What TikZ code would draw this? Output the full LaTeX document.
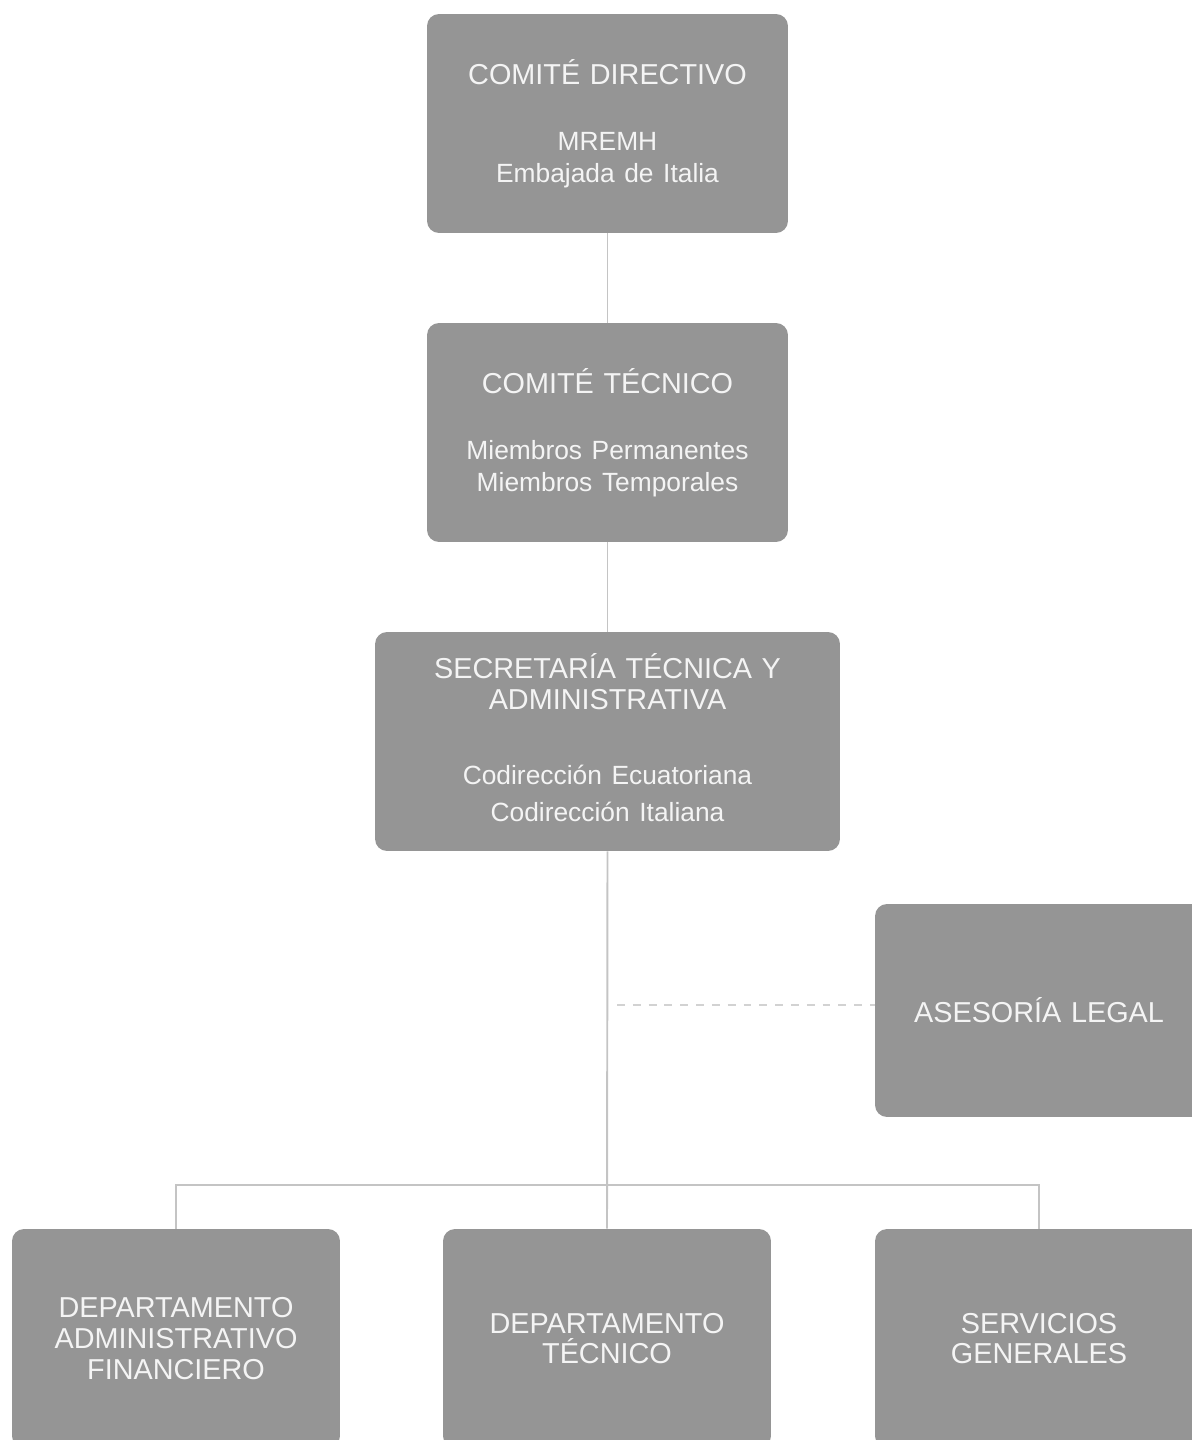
\documentclass[tikz,border=0pt]{standalone}
\usepackage{fontspec}
\setmainfont{Liberation Sans}

\definecolor{boxgray}{HTML}{959595}
\definecolor{linegray}{HTML}{C4C4C4}
\definecolor{dashgray}{HTML}{D2D2D2}
\definecolor{labelwhite}{HTML}{F4F4F4}

\tikzset{
  unit/.style={rectangle, rounded corners=0.24cm, fill=boxgray, text=labelwhite,
    text width=#1, inner xsep=0pt, align=center, minimum height=4.38cm,
    font=\fontsize{16.4}{17.5}\selectfont},
  link/.style={draw=linegray, line width=1.1pt},
  advice/.style={draw=dashgray, line width=1.1pt, dash pattern=on 4.5pt off 4.5pt}
}
\newcommand{\subtxt}[3][20pt]{\par\vspace{#1}{\fontsize{15}{#2}\selectfont #3\par}}

\begin{document}
\begin{tikzpicture}[x=0.02cm,y=-0.02cm]
            \useasboundingbox (0,0) rectangle (1192,1440);
            \clip (0,0) rectangle (1192,1440);
            \node [unit=7.22cm] (dir) at (607.5,123.5) {COMITÉ DIRECTIVO\subtxt{18pt}{MREMH\\Embajada de Italia}};
            \node [unit=7.22cm] (tec) at (607.5,432.5) {COMITÉ TÉCNICO\subtxt{18pt}{Miembros Permanentes\\Miembros Temporales}};
            \node [unit=9.3cm] (sec) at (607.5,741.5) {SECRETARÍA TÉCNICA Y\\ADMINISTRATIVA\subtxt[21pt]{21.5pt}{Codirección Ecuatoriana\\Codirección Italiana}\vspace{4pt}};
            \node [unit=6.56cm, minimum height=4.26cm] (leg) at (1039,1010.5) {ASESORÍA LEGAL};
            \node [unit=6.56cm] (adm) at (176,1338.5) {DEPARTAMENTO\\ADMINISTRATIVO\\FINANCIERO};
            \node [unit=6.56cm] (dtec) at (607,1338.5) {DEPARTAMENTO\\TÉCNICO};
            \node [unit=6.56cm] (srv) at (1039,1338.5) {SERVICIOS\\GENERALES};
            \coordinate (bus) at (607.5,1185);
            \coordinate (legtap) at (617,1005);
            \draw [link] (dir.south) -- (tec.north);
            \draw [link] (tec.south) -- (sec.north);
            \draw [link] (sec.south) -- (dtec.north);
            \draw [link] (adm.north) |- (bus) -| (srv.north);
            \draw [advice] (legtap) -- (legtap -| leg.west);
        \end{tikzpicture}
\end{document}
